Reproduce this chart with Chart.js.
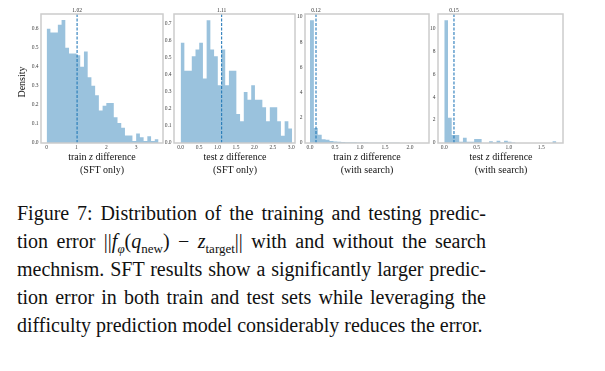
<!DOCTYPE html>
<html>
<head>
<meta charset="utf-8">
<script src="https://cdn.jsdelivr.net/npm/chart.js@4.4.1/dist/chart.umd.min.js"></script>
<style>
  body { margin: 0; width: 605px; height: 371px; background: #fff; position: relative; overflow: hidden;
         font-family: "Liberation Serif", "Times New Roman", serif; color: #111; }
  .panel { position: absolute; top: 0; height: 151px; }
  .xlab { position: absolute; top: 150px; width: 130px; font-size: 10px; line-height: 13px; text-align: center; }
  .ylab { position: absolute; left: -8px; top: 76px; width: 60px; font-size: 10px; line-height: 12px;
          text-align: center; transform: rotate(-90deg); }
  .cap { position: absolute; left: 17px; top: 199px; width: 469px; font-size: 20px; line-height: 28px; }
  .cap div { text-align: justify; text-align-last: justify; height: 28px; }
  .cap div.last { text-align-last: left; }
  .cap sub { font-size: 13px; line-height: 0; }
</style>
</head>
<body>
<div class="panel" style="left:27px;width:137px"><canvas id="c1"></canvas></div>
<div class="panel" style="left:160px;width:136px"><canvas id="c2"></canvas></div>
<div class="panel" style="left:291px;width:139px"><canvas id="c3"></canvas></div>
<div class="panel" style="left:424px;width:140px"><canvas id="c4"></canvas></div>

<div class="ylab">Density</div>
<div class="xlab" style="left:37px">train <i>z</i> difference<br>(SFT only)</div>
<div class="xlab" style="left:170px">test <i>z</i> difference<br>(SFT only)</div>
<div class="xlab" style="left:302px">train <i>z</i> difference<br>(with search)</div>
<div class="xlab" style="left:436px">test <i>z</i> difference<br>(with search)</div>

<div class="cap">
  <div>Figure 7: Distribution of the training and testing predic-</div>
  <div>tion error ||<i>f</i><sub><i>φ</i></sub>(<i>q</i><sub>new</sub>) − <i>z</i><sub>target</sub>|| with and without the search</div>
  <div>mechnism. SFT results show a significantly larger predic-</div>
  <div>tion error in both train and test sets while leveraging the</div>
  <div class="last">difficulty prediction model considerably reduces the error.</div>
</div>

<script>
// histogram densities, 30 bins each starting at 0
const trainSftBinWidth = 0.125;
const trainSftDensity = [0.60, 0.58, 0.58, 0.62, 0.645, 0.50, 0.47, 0.47, 0.46, 0.40,
  0.48, 0.345, 0.30, 0.25, 0.17, 0.195, 0.21, 0.21, 0.135, 0.105,
  0.08, 0.04, 0.04, 0.01, 0.05, 0.03, 0.01, 0.035, 0.01, 0.02];
const trainSftMean = 1.02;

const testSftBinWidth = 0.1007;
const testSftDensity = [0.59, 0.425, 0.425, 0.51, 0.55, 0.59, 0.38, 0.7225, 0.55, 0.51,
  0.34, 0.55, 0.34, 0.425, 0.425, 0.17, 0.1275, 0.30, 0.255, 0.34,
  0.255, 0.255, 0.21, 0.1275, 0.21, 0.21, 0.1275, 0.0425, 0.1275, 0.085];
const testSftMean = 1.11;

const trainSearchBinWidth = 0.078;
const trainSearchDensity = [9.75, 1.2, 0.65, 0.3, 0.25, 0.15, 0.12, 0.1, 0.08, 0.06,
  0.05, 0.05, 0.04, 0.03, 0.03, 0.02, 0.02, 0.02, 0.01, 0.01,
  0.01, 0.01, 0.01, 0.005, 0.005, 0.005, 0.005, 0.0, 0.005, 0.005];
const trainSearchMean = 0.12;

const testSearchBinWidth = 0.0578;
const testSearchDensity = [10.7, 2.2, 0.7, 0.7, 0.1, 0.45, 0.1, 0.1, 0.35, 0.35,
  0, 0, 0.15, 0.05, 0.2, 0.05, 0.2, 0.1, 0.05, 0,
  0, 0, 0, 0, 0, 0, 0, 0, 0, 0.15];
const testSearchMean = 0.15;

// tick labels
const trainSftXTicks = [0, 1, 2, 3];
const trainSftYTicks = [0, 0.1, 0.2, 0.3, 0.4, 0.5, 0.6];
const testSftXTicks = [0, 0.5, 1.0, 1.5, 2.0, 2.5, 3.0];
const testSftYTicks = [0, 0.1, 0.2, 0.3, 0.4, 0.5, 0.6, 0.7];
const trainSearchXTicks = [0, 0.5, 1.0, 1.5, 2.0];
const trainSearchYTicks = [0, 2, 4, 6, 8, 10];
const testSearchXTicks = [0, 0.5, 1.0, 1.5];
const testSearchYTicks = [0, 2, 4, 6, 8, 10];

const FONT = '"Liberation Serif", "Times New Roman", serif';
const BAR = 'rgba(31,119,180,0.45)';
const LINE = '#3a86c0';

const framePlugin = {
  id: 'frame',
  afterDatasetsDraw(chart) {
    const { ctx, chartArea: a } = chart;
    ctx.save();
    ctx.strokeStyle = '#cccccc';
    ctx.lineWidth = 1.5;
    ctx.strokeRect(a.left, a.top, a.right - a.left, a.bottom - a.top);
    ctx.restore();
  }
};

// bin edges -> stepped outline points
function histPoints(density, width) {
  const pts = density.map((d, i) => ({ x: i * width, y: d }));
  pts.push({ x: density.length * width, y: density[density.length - 1] });
  return pts;
}

function tickFont() { return { family: FONT, size: 5.5 }; }

function makeHist(id, o) {
  const fixTicks = list => ax => { ax.ticks = list.map(v => ({ value: v })); };
  new Chart(document.getElementById(id), {
    type: 'line',
    data: {
      datasets: [
        {
          data: histPoints(o.density, o.binWidth),
          stepped: true,
          fill: 'origin',
          backgroundColor: BAR,
          borderWidth: 0,
          pointRadius: 0
        },
        {
          data: [{ x: o.mean, y: 0 }, { x: o.mean, y: o.ymax }],
          borderColor: LINE,
          borderWidth: 1.2,
          borderDash: [3, 1.5],
          pointRadius: 0,
          fill: false
        }
      ]
    },
    options: {
      responsive: true,
      maintainAspectRatio: false,
      animation: false,
      layout: { padding: { right: 1, left: 0, top: 0, bottom: 0 } },
      plugins: { legend: { display: false }, tooltip: { enabled: false } },
      scales: {
        x: {
          type: 'linear', min: o.xmin, max: o.xmax,
          afterBuildTicks: fixTicks(o.xTicks),
          afterFit: s => { s.height = 8; s.paddingLeft = 0; s.paddingRight = 0; },
          grid: { display: false, drawTicks: false },
          border: { display: false },
          ticks: { font: tickFont(), color: '#444', padding: 1.5, maxRotation: 0, autoSkip: false,
                   callback: v => o.xFmt(v) }
        },
        xTop: {
          type: 'linear', position: 'top', min: o.xmin, max: o.xmax,
          afterBuildTicks: fixTicks([o.mean]),
          afterFit: s => { s.height = 14; s.paddingLeft = 0; s.paddingRight = 0; },
          grid: { display: false, drawTicks: false },
          border: { display: false },
          ticks: { font: tickFont(), color: '#333', padding: 0, maxRotation: 0, autoSkip: false,
                   callback: v => v.toFixed(2) }
        },
        y: {
          min: 0, max: o.ymax,
          afterBuildTicks: fixTicks(o.yTicks),
          afterFit: s => { s.width = 14; s.paddingTop = 0; s.paddingBottom = 0; },
          grid: { display: false, drawTicks: false },
          border: { display: false },
          ticks: { font: tickFont(), color: '#444', padding: 2.5, autoSkip: false,
                   callback: v => o.yFmt(v) }
        }
      }
    },
    plugins: [framePlugin]
  });
}

const oneDec = v => v.toFixed(1);
const int = v => String(Math.round(v));

makeHist('c1', { density: trainSftDensity, binWidth: trainSftBinWidth, mean: trainSftMean,
  xmin: -0.19, xmax: 3.9, ymax: 0.677, xTicks: trainSftXTicks, yTicks: trainSftYTicks, xFmt: int, yFmt: oneDec });
makeHist('c2', { density: testSftDensity, binWidth: testSftBinWidth, mean: testSftMean,
  xmin: -0.18, xmax: 3.1, ymax: 0.759, xTicks: testSftXTicks, yTicks: testSftYTicks, xFmt: oneDec, yFmt: oneDec });
makeHist('c3', { density: trainSearchDensity, binWidth: trainSearchBinWidth, mean: trainSearchMean,
  xmin: -0.1, xmax: 2.38, ymax: 10.24, xTicks: trainSearchXTicks, yTicks: trainSearchYTicks, xFmt: oneDec, yFmt: int });
makeHist('c4', { density: testSearchDensity, binWidth: testSearchBinWidth, mean: testSearchMean,
  xmin: -0.097, xmax: 1.837, ymax: 11.24, xTicks: testSearchXTicks, yTicks: testSearchYTicks, xFmt: oneDec, yFmt: int });
</script>
</body>
</html>
